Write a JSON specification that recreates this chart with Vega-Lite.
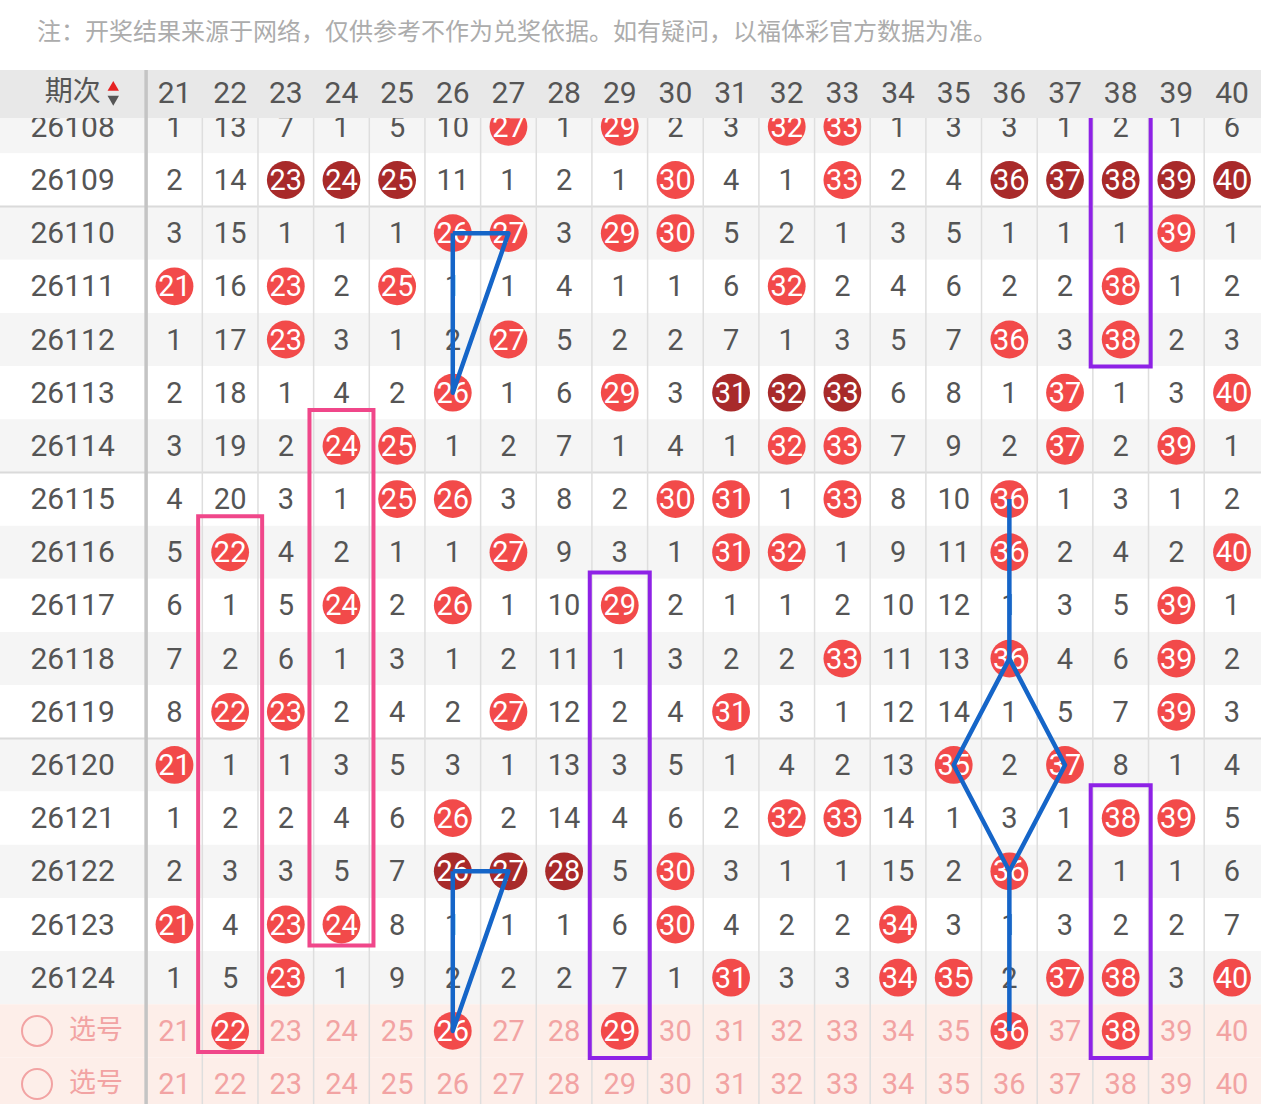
{
  "$schema": "https://vega.github.io/schema/vega-lite/v6.json",
  "width": 1261,
  "height": 1104,
  "autosize": {"type": "none"},
  "padding": 0,
  "background": "#ffffff",
  "config": {"view": {"stroke": null}},
  "datasets": {
    "rows": [
      {"r":0,"label":"26108","t":"even"},{"r":1,"label":"26109","t":"odd"},{"r":2,"label":"26110","t":"even"},{"r":3,"label":"26111","t":"odd"},
      {"r":4,"label":"26112","t":"even"},{"r":5,"label":"26113","t":"odd"},{"r":6,"label":"26114","t":"even"},{"r":7,"label":"26115","t":"odd"},
      {"r":8,"label":"26116","t":"even"},{"r":9,"label":"26117","t":"odd"},{"r":10,"label":"26118","t":"even"},{"r":11,"label":"26119","t":"odd"},
      {"r":12,"label":"26120","t":"even"},{"r":13,"label":"26121","t":"odd"},{"r":14,"label":"26122","t":"even"},{"r":15,"label":"26123","t":"odd"},
      {"r":16,"label":"26124","t":"even"},{"r":17,"label":"选号","t":"select"},{"r":18,"label":"选号","t":"select"}
    ],
    "cols": [
      {"c":21},{"c":22},{"c":23},{"c":24},{"c":25},{"c":26},{"c":27},{"c":28},{"c":29},{"c":30},
      {"c":31},{"c":32},{"c":33},{"c":34},{"c":35},{"c":36},{"c":37},{"c":38},{"c":39},{"c":40}
    ],
    "seps": [{"r":1},{"r":6},{"r":11}],
    "pinkbox": [{"c":22,"r1":8,"r2":17},{"c":24,"r1":6,"r2":15}],
    "purplebox": [{"c":38,"r1":0,"r2":4},{"c":29,"r1":9,"r2":17},{"c":38,"r1":13,"r2":17}],
    "links": [
      {"g":"a","o":1,"c":26,"r":2},{"g":"a","o":2,"c":27,"r":2},{"g":"a","o":3,"c":26,"r":5},{"g":"a","o":4,"c":26,"r":2},
      {"g":"b","o":1,"c":26,"r":14},{"g":"b","o":2,"c":27,"r":14},{"g":"b","o":3,"c":26,"r":17},{"g":"b","o":4,"c":26,"r":14},
      {"g":"c","o":1,"c":36,"r":7},{"g":"c","o":2,"c":36,"r":10},{"g":"c","o":3,"c":35,"r":12},{"g":"c","o":4,"c":36,"r":14},{"g":"c","o":5,"c":36,"r":17},
      {"g":"d","o":1,"c":36,"r":10},{"g":"d","o":2,"c":37,"r":12},{"g":"d","o":3,"c":36,"r":14}
    ],
    "cells": [
      {"r":0,"c":21,"v":"1","k":"n"},{"r":0,"c":22,"v":"13","k":"n"},{"r":0,"c":23,"v":"7","k":"n"},{"r":0,"c":24,"v":"1","k":"n"},{"r":0,"c":25,"v":"5","k":"n"},{"r":0,"c":26,"v":"10","k":"n"},{"r":0,"c":27,"v":"27","k":"h"},{"r":0,"c":28,"v":"1","k":"n"},{"r":0,"c":29,"v":"29","k":"h"},{"r":0,"c":30,"v":"2","k":"n"},{"r":0,"c":31,"v":"3","k":"n"},{"r":0,"c":32,"v":"32","k":"h"},{"r":0,"c":33,"v":"33","k":"h"},{"r":0,"c":34,"v":"1","k":"n"},{"r":0,"c":35,"v":"3","k":"n"},{"r":0,"c":36,"v":"3","k":"n"},{"r":0,"c":37,"v":"1","k":"n"},{"r":0,"c":38,"v":"2","k":"n"},{"r":0,"c":39,"v":"1","k":"n"},{"r":0,"c":40,"v":"6","k":"n"},
      {"r":1,"c":21,"v":"2","k":"n"},{"r":1,"c":22,"v":"14","k":"n"},{"r":1,"c":23,"v":"23","k":"d"},{"r":1,"c":24,"v":"24","k":"d"},{"r":1,"c":25,"v":"25","k":"d"},{"r":1,"c":26,"v":"11","k":"n"},{"r":1,"c":27,"v":"1","k":"n"},{"r":1,"c":28,"v":"2","k":"n"},{"r":1,"c":29,"v":"1","k":"n"},{"r":1,"c":30,"v":"30","k":"h"},{"r":1,"c":31,"v":"4","k":"n"},{"r":1,"c":32,"v":"1","k":"n"},{"r":1,"c":33,"v":"33","k":"h"},{"r":1,"c":34,"v":"2","k":"n"},{"r":1,"c":35,"v":"4","k":"n"},{"r":1,"c":36,"v":"36","k":"d"},{"r":1,"c":37,"v":"37","k":"d"},{"r":1,"c":38,"v":"38","k":"d"},{"r":1,"c":39,"v":"39","k":"d"},{"r":1,"c":40,"v":"40","k":"d"},
      {"r":2,"c":21,"v":"3","k":"n"},{"r":2,"c":22,"v":"15","k":"n"},{"r":2,"c":23,"v":"1","k":"n"},{"r":2,"c":24,"v":"1","k":"n"},{"r":2,"c":25,"v":"1","k":"n"},{"r":2,"c":26,"v":"26","k":"h"},{"r":2,"c":27,"v":"27","k":"h"},{"r":2,"c":28,"v":"3","k":"n"},{"r":2,"c":29,"v":"29","k":"h"},{"r":2,"c":30,"v":"30","k":"h"},{"r":2,"c":31,"v":"5","k":"n"},{"r":2,"c":32,"v":"2","k":"n"},{"r":2,"c":33,"v":"1","k":"n"},{"r":2,"c":34,"v":"3","k":"n"},{"r":2,"c":35,"v":"5","k":"n"},{"r":2,"c":36,"v":"1","k":"n"},{"r":2,"c":37,"v":"1","k":"n"},{"r":2,"c":38,"v":"1","k":"n"},{"r":2,"c":39,"v":"39","k":"h"},{"r":2,"c":40,"v":"1","k":"n"},
      {"r":3,"c":21,"v":"21","k":"h"},{"r":3,"c":22,"v":"16","k":"n"},{"r":3,"c":23,"v":"23","k":"h"},{"r":3,"c":24,"v":"2","k":"n"},{"r":3,"c":25,"v":"25","k":"h"},{"r":3,"c":26,"v":"1","k":"n"},{"r":3,"c":27,"v":"1","k":"n"},{"r":3,"c":28,"v":"4","k":"n"},{"r":3,"c":29,"v":"1","k":"n"},{"r":3,"c":30,"v":"1","k":"n"},{"r":3,"c":31,"v":"6","k":"n"},{"r":3,"c":32,"v":"32","k":"h"},{"r":3,"c":33,"v":"2","k":"n"},{"r":3,"c":34,"v":"4","k":"n"},{"r":3,"c":35,"v":"6","k":"n"},{"r":3,"c":36,"v":"2","k":"n"},{"r":3,"c":37,"v":"2","k":"n"},{"r":3,"c":38,"v":"38","k":"h"},{"r":3,"c":39,"v":"1","k":"n"},{"r":3,"c":40,"v":"2","k":"n"},
      {"r":4,"c":21,"v":"1","k":"n"},{"r":4,"c":22,"v":"17","k":"n"},{"r":4,"c":23,"v":"23","k":"h"},{"r":4,"c":24,"v":"3","k":"n"},{"r":4,"c":25,"v":"1","k":"n"},{"r":4,"c":26,"v":"2","k":"n"},{"r":4,"c":27,"v":"27","k":"h"},{"r":4,"c":28,"v":"5","k":"n"},{"r":4,"c":29,"v":"2","k":"n"},{"r":4,"c":30,"v":"2","k":"n"},{"r":4,"c":31,"v":"7","k":"n"},{"r":4,"c":32,"v":"1","k":"n"},{"r":4,"c":33,"v":"3","k":"n"},{"r":4,"c":34,"v":"5","k":"n"},{"r":4,"c":35,"v":"7","k":"n"},{"r":4,"c":36,"v":"36","k":"h"},{"r":4,"c":37,"v":"3","k":"n"},{"r":4,"c":38,"v":"38","k":"h"},{"r":4,"c":39,"v":"2","k":"n"},{"r":4,"c":40,"v":"3","k":"n"},
      {"r":5,"c":21,"v":"2","k":"n"},{"r":5,"c":22,"v":"18","k":"n"},{"r":5,"c":23,"v":"1","k":"n"},{"r":5,"c":24,"v":"4","k":"n"},{"r":5,"c":25,"v":"2","k":"n"},{"r":5,"c":26,"v":"26","k":"h"},{"r":5,"c":27,"v":"1","k":"n"},{"r":5,"c":28,"v":"6","k":"n"},{"r":5,"c":29,"v":"29","k":"h"},{"r":5,"c":30,"v":"3","k":"n"},{"r":5,"c":31,"v":"31","k":"d"},{"r":5,"c":32,"v":"32","k":"d"},{"r":5,"c":33,"v":"33","k":"d"},{"r":5,"c":34,"v":"6","k":"n"},{"r":5,"c":35,"v":"8","k":"n"},{"r":5,"c":36,"v":"1","k":"n"},{"r":5,"c":37,"v":"37","k":"h"},{"r":5,"c":38,"v":"1","k":"n"},{"r":5,"c":39,"v":"3","k":"n"},{"r":5,"c":40,"v":"40","k":"h"},
      {"r":6,"c":21,"v":"3","k":"n"},{"r":6,"c":22,"v":"19","k":"n"},{"r":6,"c":23,"v":"2","k":"n"},{"r":6,"c":24,"v":"24","k":"h"},{"r":6,"c":25,"v":"25","k":"h"},{"r":6,"c":26,"v":"1","k":"n"},{"r":6,"c":27,"v":"2","k":"n"},{"r":6,"c":28,"v":"7","k":"n"},{"r":6,"c":29,"v":"1","k":"n"},{"r":6,"c":30,"v":"4","k":"n"},{"r":6,"c":31,"v":"1","k":"n"},{"r":6,"c":32,"v":"32","k":"h"},{"r":6,"c":33,"v":"33","k":"h"},{"r":6,"c":34,"v":"7","k":"n"},{"r":6,"c":35,"v":"9","k":"n"},{"r":6,"c":36,"v":"2","k":"n"},{"r":6,"c":37,"v":"37","k":"h"},{"r":6,"c":38,"v":"2","k":"n"},{"r":6,"c":39,"v":"39","k":"h"},{"r":6,"c":40,"v":"1","k":"n"},
      {"r":7,"c":21,"v":"4","k":"n"},{"r":7,"c":22,"v":"20","k":"n"},{"r":7,"c":23,"v":"3","k":"n"},{"r":7,"c":24,"v":"1","k":"n"},{"r":7,"c":25,"v":"25","k":"h"},{"r":7,"c":26,"v":"26","k":"h"},{"r":7,"c":27,"v":"3","k":"n"},{"r":7,"c":28,"v":"8","k":"n"},{"r":7,"c":29,"v":"2","k":"n"},{"r":7,"c":30,"v":"30","k":"h"},{"r":7,"c":31,"v":"31","k":"h"},{"r":7,"c":32,"v":"1","k":"n"},{"r":7,"c":33,"v":"33","k":"h"},{"r":7,"c":34,"v":"8","k":"n"},{"r":7,"c":35,"v":"10","k":"n"},{"r":7,"c":36,"v":"36","k":"h"},{"r":7,"c":37,"v":"1","k":"n"},{"r":7,"c":38,"v":"3","k":"n"},{"r":7,"c":39,"v":"1","k":"n"},{"r":7,"c":40,"v":"2","k":"n"},
      {"r":8,"c":21,"v":"5","k":"n"},{"r":8,"c":22,"v":"22","k":"h"},{"r":8,"c":23,"v":"4","k":"n"},{"r":8,"c":24,"v":"2","k":"n"},{"r":8,"c":25,"v":"1","k":"n"},{"r":8,"c":26,"v":"1","k":"n"},{"r":8,"c":27,"v":"27","k":"h"},{"r":8,"c":28,"v":"9","k":"n"},{"r":8,"c":29,"v":"3","k":"n"},{"r":8,"c":30,"v":"1","k":"n"},{"r":8,"c":31,"v":"31","k":"h"},{"r":8,"c":32,"v":"32","k":"h"},{"r":8,"c":33,"v":"1","k":"n"},{"r":8,"c":34,"v":"9","k":"n"},{"r":8,"c":35,"v":"11","k":"n"},{"r":8,"c":36,"v":"36","k":"h"},{"r":8,"c":37,"v":"2","k":"n"},{"r":8,"c":38,"v":"4","k":"n"},{"r":8,"c":39,"v":"2","k":"n"},{"r":8,"c":40,"v":"40","k":"h"},
      {"r":9,"c":21,"v":"6","k":"n"},{"r":9,"c":22,"v":"1","k":"n"},{"r":9,"c":23,"v":"5","k":"n"},{"r":9,"c":24,"v":"24","k":"h"},{"r":9,"c":25,"v":"2","k":"n"},{"r":9,"c":26,"v":"26","k":"h"},{"r":9,"c":27,"v":"1","k":"n"},{"r":9,"c":28,"v":"10","k":"n"},{"r":9,"c":29,"v":"29","k":"h"},{"r":9,"c":30,"v":"2","k":"n"},{"r":9,"c":31,"v":"1","k":"n"},{"r":9,"c":32,"v":"1","k":"n"},{"r":9,"c":33,"v":"2","k":"n"},{"r":9,"c":34,"v":"10","k":"n"},{"r":9,"c":35,"v":"12","k":"n"},{"r":9,"c":36,"v":"1","k":"n"},{"r":9,"c":37,"v":"3","k":"n"},{"r":9,"c":38,"v":"5","k":"n"},{"r":9,"c":39,"v":"39","k":"h"},{"r":9,"c":40,"v":"1","k":"n"},
      {"r":10,"c":21,"v":"7","k":"n"},{"r":10,"c":22,"v":"2","k":"n"},{"r":10,"c":23,"v":"6","k":"n"},{"r":10,"c":24,"v":"1","k":"n"},{"r":10,"c":25,"v":"3","k":"n"},{"r":10,"c":26,"v":"1","k":"n"},{"r":10,"c":27,"v":"2","k":"n"},{"r":10,"c":28,"v":"11","k":"n"},{"r":10,"c":29,"v":"1","k":"n"},{"r":10,"c":30,"v":"3","k":"n"},{"r":10,"c":31,"v":"2","k":"n"},{"r":10,"c":32,"v":"2","k":"n"},{"r":10,"c":33,"v":"33","k":"h"},{"r":10,"c":34,"v":"11","k":"n"},{"r":10,"c":35,"v":"13","k":"n"},{"r":10,"c":36,"v":"36","k":"h"},{"r":10,"c":37,"v":"4","k":"n"},{"r":10,"c":38,"v":"6","k":"n"},{"r":10,"c":39,"v":"39","k":"h"},{"r":10,"c":40,"v":"2","k":"n"},
      {"r":11,"c":21,"v":"8","k":"n"},{"r":11,"c":22,"v":"22","k":"h"},{"r":11,"c":23,"v":"23","k":"h"},{"r":11,"c":24,"v":"2","k":"n"},{"r":11,"c":25,"v":"4","k":"n"},{"r":11,"c":26,"v":"2","k":"n"},{"r":11,"c":27,"v":"27","k":"h"},{"r":11,"c":28,"v":"12","k":"n"},{"r":11,"c":29,"v":"2","k":"n"},{"r":11,"c":30,"v":"4","k":"n"},{"r":11,"c":31,"v":"31","k":"h"},{"r":11,"c":32,"v":"3","k":"n"},{"r":11,"c":33,"v":"1","k":"n"},{"r":11,"c":34,"v":"12","k":"n"},{"r":11,"c":35,"v":"14","k":"n"},{"r":11,"c":36,"v":"1","k":"n"},{"r":11,"c":37,"v":"5","k":"n"},{"r":11,"c":38,"v":"7","k":"n"},{"r":11,"c":39,"v":"39","k":"h"},{"r":11,"c":40,"v":"3","k":"n"},
      {"r":12,"c":21,"v":"21","k":"h"},{"r":12,"c":22,"v":"1","k":"n"},{"r":12,"c":23,"v":"1","k":"n"},{"r":12,"c":24,"v":"3","k":"n"},{"r":12,"c":25,"v":"5","k":"n"},{"r":12,"c":26,"v":"3","k":"n"},{"r":12,"c":27,"v":"1","k":"n"},{"r":12,"c":28,"v":"13","k":"n"},{"r":12,"c":29,"v":"3","k":"n"},{"r":12,"c":30,"v":"5","k":"n"},{"r":12,"c":31,"v":"1","k":"n"},{"r":12,"c":32,"v":"4","k":"n"},{"r":12,"c":33,"v":"2","k":"n"},{"r":12,"c":34,"v":"13","k":"n"},{"r":12,"c":35,"v":"35","k":"h"},{"r":12,"c":36,"v":"2","k":"n"},{"r":12,"c":37,"v":"37","k":"h"},{"r":12,"c":38,"v":"8","k":"n"},{"r":12,"c":39,"v":"1","k":"n"},{"r":12,"c":40,"v":"4","k":"n"},
      {"r":13,"c":21,"v":"1","k":"n"},{"r":13,"c":22,"v":"2","k":"n"},{"r":13,"c":23,"v":"2","k":"n"},{"r":13,"c":24,"v":"4","k":"n"},{"r":13,"c":25,"v":"6","k":"n"},{"r":13,"c":26,"v":"26","k":"h"},{"r":13,"c":27,"v":"2","k":"n"},{"r":13,"c":28,"v":"14","k":"n"},{"r":13,"c":29,"v":"4","k":"n"},{"r":13,"c":30,"v":"6","k":"n"},{"r":13,"c":31,"v":"2","k":"n"},{"r":13,"c":32,"v":"32","k":"h"},{"r":13,"c":33,"v":"33","k":"h"},{"r":13,"c":34,"v":"14","k":"n"},{"r":13,"c":35,"v":"1","k":"n"},{"r":13,"c":36,"v":"3","k":"n"},{"r":13,"c":37,"v":"1","k":"n"},{"r":13,"c":38,"v":"38","k":"h"},{"r":13,"c":39,"v":"39","k":"h"},{"r":13,"c":40,"v":"5","k":"n"},
      {"r":14,"c":21,"v":"2","k":"n"},{"r":14,"c":22,"v":"3","k":"n"},{"r":14,"c":23,"v":"3","k":"n"},{"r":14,"c":24,"v":"5","k":"n"},{"r":14,"c":25,"v":"7","k":"n"},{"r":14,"c":26,"v":"26","k":"d"},{"r":14,"c":27,"v":"27","k":"d"},{"r":14,"c":28,"v":"28","k":"d"},{"r":14,"c":29,"v":"5","k":"n"},{"r":14,"c":30,"v":"30","k":"h"},{"r":14,"c":31,"v":"3","k":"n"},{"r":14,"c":32,"v":"1","k":"n"},{"r":14,"c":33,"v":"1","k":"n"},{"r":14,"c":34,"v":"15","k":"n"},{"r":14,"c":35,"v":"2","k":"n"},{"r":14,"c":36,"v":"36","k":"h"},{"r":14,"c":37,"v":"2","k":"n"},{"r":14,"c":38,"v":"1","k":"n"},{"r":14,"c":39,"v":"1","k":"n"},{"r":14,"c":40,"v":"6","k":"n"},
      {"r":15,"c":21,"v":"21","k":"h"},{"r":15,"c":22,"v":"4","k":"n"},{"r":15,"c":23,"v":"23","k":"h"},{"r":15,"c":24,"v":"24","k":"h"},{"r":15,"c":25,"v":"8","k":"n"},{"r":15,"c":26,"v":"1","k":"n"},{"r":15,"c":27,"v":"1","k":"n"},{"r":15,"c":28,"v":"1","k":"n"},{"r":15,"c":29,"v":"6","k":"n"},{"r":15,"c":30,"v":"30","k":"h"},{"r":15,"c":31,"v":"4","k":"n"},{"r":15,"c":32,"v":"2","k":"n"},{"r":15,"c":33,"v":"2","k":"n"},{"r":15,"c":34,"v":"34","k":"h"},{"r":15,"c":35,"v":"3","k":"n"},{"r":15,"c":36,"v":"1","k":"n"},{"r":15,"c":37,"v":"3","k":"n"},{"r":15,"c":38,"v":"2","k":"n"},{"r":15,"c":39,"v":"2","k":"n"},{"r":15,"c":40,"v":"7","k":"n"},
      {"r":16,"c":21,"v":"1","k":"n"},{"r":16,"c":22,"v":"5","k":"n"},{"r":16,"c":23,"v":"23","k":"h"},{"r":16,"c":24,"v":"1","k":"n"},{"r":16,"c":25,"v":"9","k":"n"},{"r":16,"c":26,"v":"2","k":"n"},{"r":16,"c":27,"v":"2","k":"n"},{"r":16,"c":28,"v":"2","k":"n"},{"r":16,"c":29,"v":"7","k":"n"},{"r":16,"c":30,"v":"1","k":"n"},{"r":16,"c":31,"v":"31","k":"h"},{"r":16,"c":32,"v":"3","k":"n"},{"r":16,"c":33,"v":"3","k":"n"},{"r":16,"c":34,"v":"34","k":"h"},{"r":16,"c":35,"v":"35","k":"h"},{"r":16,"c":36,"v":"2","k":"n"},{"r":16,"c":37,"v":"37","k":"h"},{"r":16,"c":38,"v":"38","k":"h"},{"r":16,"c":39,"v":"3","k":"n"},{"r":16,"c":40,"v":"40","k":"h"},
      {"r":17,"c":21,"v":"21","k":"s"},{"r":17,"c":22,"v":"22","k":"sh"},{"r":17,"c":23,"v":"23","k":"s"},{"r":17,"c":24,"v":"24","k":"s"},{"r":17,"c":25,"v":"25","k":"s"},{"r":17,"c":26,"v":"26","k":"sh"},{"r":17,"c":27,"v":"27","k":"s"},{"r":17,"c":28,"v":"28","k":"s"},{"r":17,"c":29,"v":"29","k":"sh"},{"r":17,"c":30,"v":"30","k":"s"},{"r":17,"c":31,"v":"31","k":"s"},{"r":17,"c":32,"v":"32","k":"s"},{"r":17,"c":33,"v":"33","k":"s"},{"r":17,"c":34,"v":"34","k":"s"},{"r":17,"c":35,"v":"35","k":"s"},{"r":17,"c":36,"v":"36","k":"sh"},{"r":17,"c":37,"v":"37","k":"s"},{"r":17,"c":38,"v":"38","k":"sh"},{"r":17,"c":39,"v":"39","k":"s"},{"r":17,"c":40,"v":"40","k":"s"},
      {"r":18,"c":21,"v":"21","k":"s"},{"r":18,"c":22,"v":"22","k":"s"},{"r":18,"c":23,"v":"23","k":"s"},{"r":18,"c":24,"v":"24","k":"s"},{"r":18,"c":25,"v":"25","k":"s"},{"r":18,"c":26,"v":"26","k":"s"},{"r":18,"c":27,"v":"27","k":"s"},{"r":18,"c":28,"v":"28","k":"s"},{"r":18,"c":29,"v":"29","k":"s"},{"r":18,"c":30,"v":"30","k":"s"},{"r":18,"c":31,"v":"31","k":"s"},{"r":18,"c":32,"v":"32","k":"s"},{"r":18,"c":33,"v":"33","k":"s"},{"r":18,"c":34,"v":"34","k":"s"},{"r":18,"c":35,"v":"35","k":"s"},{"r":18,"c":36,"v":"36","k":"s"},{"r":18,"c":37,"v":"37","k":"s"},{"r":18,"c":38,"v":"38","k":"s"},{"r":18,"c":39,"v":"39","k":"s"},{"r":18,"c":40,"v":"40","k":"s"}
    ]
  },
  "layer": [
    {
      "data": {"name": "rows"},
      "mark": {"type": "rect", "yOffset": -26.6, "y2Offset": 26.6},
      "encoding": {
        "x": {"datum": 17.865, "type": "quantitative", "scale": {"domain": [17.865, 40.521], "nice": false, "zero": false}, "axis": null},
        "x2": {"datum": 40.521},
        "y": {"field": "r", "type": "quantitative", "scale": {"domain": [-2.384, 18.375], "reverse": true, "nice": false, "zero": false}, "axis": null},
        "y2": {"field": "r"},
        "color": {"condition": [{"test": "datum.t == 'even'", "value": "#f5f5f5"}, {"test": "datum.t == 'select'", "value": "#fdeee9"}], "value": "#ffffff"}
      }
    },
    {
      "data": {"name": "seps"},
      "mark": {"type": "rule", "yOffset": 26.6, "color": "#dadada", "strokeWidth": 2},
      "encoding": {
        "x": {"datum": 17.865, "type": "quantitative", "scale": {"domain": [17.865, 40.521], "nice": false, "zero": false}, "axis": null},
        "x2": {"datum": 40.521},
        "y": {"field": "r", "type": "quantitative", "scale": {"domain": [-2.384, 18.375], "reverse": true, "nice": false, "zero": false}, "axis": null}
      }
    },
    {
      "data": {"name": "cols"},
      "transform": [{"filter": "datum.c < 40"}],
      "mark": {"type": "rule", "xOffset": 27.83, "color": "#dedede", "strokeWidth": 1.5},
      "encoding": {
        "x": {"field": "c", "type": "quantitative", "scale": {"domain": [17.865, 40.521], "nice": false, "zero": false}, "axis": null},
        "y": {"datum": -0.3, "type": "quantitative", "scale": {"domain": [-2.384, 18.375], "reverse": true, "nice": false, "zero": false}, "axis": null},
        "y2": {"datum": 18.375}
      }
    },
    {
      "data": {"name": "cells"},
      "transform": [{"filter": "datum.k == 'h' || datum.k == 'd' || datum.k == 'sh'"}],
      "mark": {"type": "point", "shape": "circle", "filled": true, "size": 1430, "opacity": 1},
      "encoding": {
        "x": {"field": "c", "type": "quantitative", "scale": {"domain": [17.865, 40.521], "nice": false, "zero": false}, "axis": null},
        "y": {"field": "r", "type": "quantitative", "scale": {"domain": [-2.384, 18.375], "reverse": true, "nice": false, "zero": false}, "axis": null},
        "color": {"condition": {"test": "datum.k == 'd'", "value": "#a82a2a"}, "value": "#f24a4a"}
      }
    },
    {
      "data": {"name": "cells"},
      "mark": {"type": "text", "font": "Roboto", "fontSize": 29, "align": "center", "baseline": "middle", "dy": 1},
      "encoding": {
        "x": {"field": "c", "type": "quantitative", "scale": {"domain": [17.865, 40.521], "nice": false, "zero": false}, "axis": null},
        "y": {"field": "r", "type": "quantitative", "scale": {"domain": [-2.384, 18.375], "reverse": true, "nice": false, "zero": false}, "axis": null},
        "text": {"field": "v", "type": "nominal"},
        "color": {"condition": [{"test": "datum.k == 'n'", "value": "#555555"}, {"test": "datum.k == 's'", "value": "#f2a3a3"}], "value": "#ffffff"}
      }
    },
    {
      "data": {"name": "rows"},
      "transform": [{"filter": "datum.t != 'select'"}],
      "mark": {"type": "text", "font": "Roboto", "fontSize": 30, "align": "center", "baseline": "middle", "dy": 1, "color": "#555555"},
      "encoding": {
        "x": {"datum": 19.17, "type": "quantitative", "scale": {"domain": [17.865, 40.521], "nice": false, "zero": false}, "axis": null},
        "y": {"field": "r", "type": "quantitative", "scale": {"domain": [-2.384, 18.375], "reverse": true, "nice": false, "zero": false}, "axis": null},
        "text": {"field": "label", "type": "nominal"}
      }
    },
    {
      "data": {"name": "rows"},
      "transform": [{"filter": "datum.t == 'select'"}],
      "mark": {"type": "text", "font": "Noto Sans CJK SC", "fontSize": 27, "align": "center", "baseline": "middle", "color": "#f2a3a3"},
      "encoding": {
        "x": {"datum": 19.59, "type": "quantitative", "scale": {"domain": [17.865, 40.521], "nice": false, "zero": false}, "axis": null},
        "y": {"field": "r", "type": "quantitative", "scale": {"domain": [-2.384, 18.375], "reverse": true, "nice": false, "zero": false}, "axis": null},
        "text": {"field": "label", "type": "nominal"}
      }
    },
    {
      "data": {"name": "rows"},
      "transform": [{"filter": "datum.t == 'select'"}],
      "mark": {"type": "point", "shape": "circle", "filled": false, "size": 900, "stroke": "#f2a3a3", "strokeWidth": 2, "opacity": 1},
      "encoding": {
        "x": {"datum": 18.53, "type": "quantitative", "scale": {"domain": [17.865, 40.521], "nice": false, "zero": false}, "axis": null},
        "y": {"field": "r", "type": "quantitative", "scale": {"domain": [-2.384, 18.375], "reverse": true, "nice": false, "zero": false}, "axis": null}
      }
    },
    {
      "data": {"name": "pinkbox"},
      "mark": {"type": "rect", "filled": false, "stroke": "#f0478a", "strokeWidth": 4, "xOffset": -32, "x2Offset": 32, "yOffset": -36, "y2Offset": 21},
      "encoding": {
        "x": {"field": "c", "type": "quantitative", "scale": {"domain": [17.865, 40.521], "nice": false, "zero": false}, "axis": null},
        "x2": {"field": "c"},
        "y": {"field": "r1", "type": "quantitative", "scale": {"domain": [-2.384, 18.375], "reverse": true, "nice": false, "zero": false}, "axis": null},
        "y2": {"field": "r2"}
      }
    },
    {
      "data": {"name": "purplebox"},
      "mark": {"type": "rect", "filled": false, "stroke": "#8e22e6", "strokeWidth": 4, "xOffset": -30, "x2Offset": 30, "yOffset": -33, "y2Offset": 27},
      "encoding": {
        "x": {"field": "c", "type": "quantitative", "scale": {"domain": [17.865, 40.521], "nice": false, "zero": false}, "axis": null},
        "x2": {"field": "c"},
        "y": {"field": "r1", "type": "quantitative", "scale": {"domain": [-2.384, 18.375], "reverse": true, "nice": false, "zero": false}, "axis": null},
        "y2": {"field": "r2"}
      }
    },
    {
      "data": {"name": "links"},
      "mark": {"type": "line", "color": "#1565c8", "strokeWidth": 4.5, "strokeJoin": "round"},
      "encoding": {
        "x": {"field": "c", "type": "quantitative", "scale": {"domain": [17.865, 40.521], "nice": false, "zero": false}, "axis": null},
        "y": {"field": "r", "type": "quantitative", "scale": {"domain": [-2.384, 18.375], "reverse": true, "nice": false, "zero": false}, "axis": null},
        "detail": {"field": "g", "type": "nominal"},
        "order": {"field": "o", "type": "quantitative"}
      }
    },
    {
      "data": {"values": [{"part": "header"}]},
      "mark": {"type": "rect", "color": "#e8e8e8"},
      "encoding": {
        "x": {"datum": 17.865, "type": "quantitative", "scale": {"domain": [17.865, 40.521], "nice": false, "zero": false}, "axis": null},
        "x2": {"datum": 40.521},
        "y": {"datum": -1.068, "type": "quantitative", "scale": {"domain": [-2.384, 18.375], "reverse": true, "nice": false, "zero": false}, "axis": null},
        "y2": {"datum": -0.165}
      }
    },
    {
      "data": {"values": [{"part": "divider"}]},
      "mark": {"type": "rule", "color": "#c4c4c4", "strokeWidth": 3.5},
      "encoding": {
        "x": {"datum": 20.49, "type": "quantitative", "scale": {"domain": [17.865, 40.521], "nice": false, "zero": false}, "axis": null},
        "y": {"datum": -1.068, "type": "quantitative", "scale": {"domain": [-2.384, 18.375], "reverse": true, "nice": false, "zero": false}, "axis": null},
        "y2": {"datum": 18.375}
      }
    },
    {
      "data": {"name": "cols"},
      "mark": {"type": "text", "font": "Roboto", "fontSize": 30, "align": "center", "baseline": "middle", "dy": 1, "color": "#555555"},
      "encoding": {
        "x": {"field": "c", "type": "quantitative", "scale": {"domain": [17.865, 40.521], "nice": false, "zero": false}, "axis": null},
        "y": {"datum": -0.636, "type": "quantitative", "scale": {"domain": [-2.384, 18.375], "reverse": true, "nice": false, "zero": false}, "axis": null},
        "text": {"field": "c", "type": "nominal"}
      }
    },
    {
      "data": {"values": [{"h": "期次"}]},
      "mark": {"type": "text", "font": "Noto Sans CJK SC", "fontSize": 28, "align": "center", "baseline": "middle", "color": "#555555"},
      "encoding": {
        "x": {"datum": 19.17, "type": "quantitative", "scale": {"domain": [17.865, 40.521], "nice": false, "zero": false}, "axis": null},
        "y": {"datum": -0.636, "type": "quantitative", "scale": {"domain": [-2.384, 18.375], "reverse": true, "nice": false, "zero": false}, "axis": null},
        "text": {"field": "h", "type": "nominal"}
      }
    },
    {
      "data": {"values": [{"sort": "asc"}]},
      "mark": {"type": "point", "shape": "triangle-up", "filled": true, "size": 130, "color": "#e62222", "opacity": 1},
      "encoding": {
        "x": {"datum": 19.9, "type": "quantitative", "scale": {"domain": [17.865, 40.521], "nice": false, "zero": false}, "axis": null},
        "y": {"datum": -0.77, "type": "quantitative", "scale": {"domain": [-2.384, 18.375], "reverse": true, "nice": false, "zero": false}, "axis": null}
      }
    },
    {
      "data": {"values": [{"sort": "desc"}]},
      "mark": {"type": "point", "shape": "triangle-down", "filled": true, "size": 130, "color": "#555555", "opacity": 1},
      "encoding": {
        "x": {"datum": 19.9, "type": "quantitative", "scale": {"domain": [17.865, 40.521], "nice": false, "zero": false}, "axis": null},
        "y": {"datum": -0.49, "type": "quantitative", "scale": {"domain": [-2.384, 18.375], "reverse": true, "nice": false, "zero": false}, "axis": null}
      }
    },
    {
      "data": {"values": [{"note": "注：开奖结果来源于网络，仅供参考不作为兑奖依据。如有疑问，以福体彩官方数据为准。"}]},
      "mark": {"type": "text", "font": "Noto Sans CJK SC", "fontSize": 24, "align": "left", "baseline": "middle", "color": "#acacac"},
      "encoding": {
        "x": {"datum": 18.53, "type": "quantitative", "scale": {"domain": [17.865, 40.521], "nice": false, "zero": false}, "axis": null},
        "y": {"datum": -1.764, "type": "quantitative", "scale": {"domain": [-2.384, 18.375], "reverse": true, "nice": false, "zero": false}, "axis": null},
        "text": {"field": "note", "type": "nominal"}
      }
    }
  ]
}
